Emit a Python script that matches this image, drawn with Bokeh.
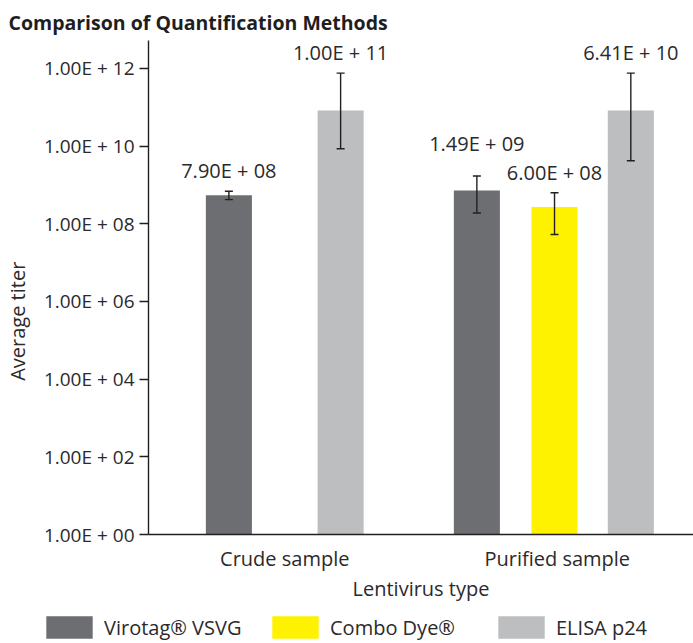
from bokeh.plotting import figure
from bokeh.models import (ColumnDataSource, Whisker, FixedTicker, Legend, LegendItem,
                          LabelSet, CustomJSTickFormatter)
from bokeh.core.properties import value
from bokeh.embed import file_html
from bokeh.resources import INLINE

# ---------------- data ----------------
categories = ["Crude sample", "Purified sample"]
methods = ["Virotag® VSVG", "Combo Dye®", "ELISA p24"]
method_colors = ["#6d6e71", "#fff200", "#bcbec0"]

bar_category = ["Crude sample", "Crude sample", "Purified sample", "Purified sample", "Purified sample"]
bar_method = ["Virotag® VSVG", "ELISA p24", "Virotag® VSVG", "Combo Dye®", "ELISA p24"]
bar_value = [5.4e8, 8.3e10, 7.2e8, 2.7e8, 8.3e10]
err_upper = [6.9e8, 7.6e11, 1.7e9, 6.3e8, 7.6e11]
err_lower = [4.2e8, 8.6e9, 1.9e8, 5.3e7, 4.2e9]
bar_labels = ["7.90E + 08", "1.00E + 11", "1.49E + 09", "6.00E + 08", "6.41E + 10"]

ytick_values = [1e0, 1e2, 1e4, 1e6, 1e8, 1e10, 1e12]
ytick_labels = ["1.00E + 00", "1.00E + 02", "1.00E + 04", "1.00E + 06",
                "1.00E + 08", "1.00E + 10", "1.00E + 12"]

title_text = "Comparison of Quantification Methods"
x_title = "Lentivirus type"
y_title = "Average titer"

# ---------------- layout / style ----------------
FONT = "Open Sans"
TXT = "#2b2a2b"
AX = "#231f20"
bar_offsets = [-0.205, 0.205, -0.295, -0.01, 0.27]   # within-category dodge
label_raise = [13, 13, 25, 13, 13]                    # px above error-bar top
bar_w = 0.169

xs = [categories.index(c) + 0.5 + o for c, o in zip(bar_category, bar_offsets)]
src = ColumnDataSource(dict(x=xs, top=bar_value, up=err_upper, lo=err_lower,
                            lab=bar_labels, raise_=label_raise))

p = figure(width=693, height=609, y_axis_type="log",
           x_range=(0, 2), y_range=(1, 10 ** 12.72),
           output_backend="svg", toolbar_location=None,
           min_border_left=148, min_border_right=0, min_border_top=40,
           min_border_bottom=75)
p.outline_line_color = None
p.grid.visible = False
p.background_fill_color = "white"

# title
p.title.text = title_text
p.title.text_font = FONT
p.title.text_font_size = "19.5px"
p.title.text_font_style = "bold"
p.title.text_color = "#1f1e1f"
p.title.align = "left"
p.title.offset = -140
p.title.standoff = 9

for m, c in zip(methods, method_colors):
    idx = [i for i, bm in enumerate(bar_method) if bm == m]
    s = ColumnDataSource(dict(x=[xs[i] for i in idx], top=[bar_value[i] for i in idx]))
    p.vbar(x="x", top="top", bottom=1, width=bar_w, source=s,
           fill_color=c, line_color=None)

w = Whisker(base="x", upper="up", lower="lo", source=src, level="annotation",
            line_color=AX, line_width=1.4)
for head in (w.upper_head, w.lower_head):
    head.size = 8
    head.line_color = AX
    head.line_width = 1.4
p.add_layout(w)

labels = LabelSet(x="x", y="up", text="lab", source=src, text_align="center",
                  text_baseline="alphabetic", y_offset="raise_",
                  text_font=value(FONT), text_font_size="20px", text_color=TXT)
p.add_layout(labels)

# y axis
ya = p.yaxis[0]
ya.ticker = FixedTicker(ticks=ytick_values, minor_ticks=[])
ya.formatter = CustomJSTickFormatter(args=dict(vals=ytick_values, labs=ytick_labels), code="""
    let best = 0, bd = 1e9;
    for (let i = 0; i < vals.length; i++) {
        const d = Math.abs(Math.log10(vals[i]) - Math.log10(tick));
        if (d < bd) { bd = d; best = i; }
    }
    return labs[best];
""")
ya.axis_label = y_title + "\u00a0" * 13
ya.axis_label_text_font = FONT
ya.axis_label_text_font_style = "normal"
ya.axis_label_text_font_size = "20px"
ya.axis_label_text_color = TXT
ya.axis_label_standoff = 10
ya.major_label_text_font = FONT
ya.major_label_text_font_size = "19px"
ya.major_label_text_color = TXT
ya.major_label_standoff = 5
ya.major_tick_out = 9
ya.major_tick_in = 0
ya.minor_tick_out = 0
ya.minor_tick_in = 0
ya.axis_line_color = AX
ya.axis_line_width = 1.4
ya.major_tick_line_color = AX
ya.major_tick_line_width = 1.4

# x axis
xa = p.xaxis[0]
xa.ticker = FixedTicker(ticks=[0.5, 1.5], minor_ticks=[])
xa.formatter = CustomJSTickFormatter(args=dict(cats=categories), code="""
    return cats[Math.round(tick - 0.5)];
""")
xa.axis_label = x_title
xa.axis_label_text_font = FONT
xa.axis_label_text_font_style = "normal"
xa.axis_label_text_font_size = "20px"
xa.axis_label_text_color = TXT
xa.axis_label_standoff = 0
xa.major_label_text_font = FONT
xa.major_label_text_font_size = "20px"
xa.major_label_text_color = TXT
xa.major_label_standoff = 10
xa.major_tick_out = 0
xa.major_tick_in = 0
xa.minor_tick_out = 0
xa.minor_tick_in = 0
xa.axis_line_color = AX
xa.axis_line_width = 1.4

# legend strip: a separate root below the chart, so it can span the full width
pl = figure(width=693, height=34, output_backend="svg", toolbar_location=None,
            min_border_left=0, min_border_right=0, min_border_top=0, min_border_bottom=0,
            x_range=(0, 1), y_range=(0, 1))
pl.axis.visible = False
pl.grid.visible = False
pl.outline_line_color = None
items = []
for m, c in zip(methods, method_colors):
    # zero-height key bar: nothing is drawn in the strip itself, only the legend swatch
    r = pl.vbar(x=[0.5], top=[0], bottom=[0], width=0, fill_color=c, line_color=None)
    items.append(LegendItem(label=m, renderers=[r]))
legend = Legend(items=items, orientation="horizontal", location=(40, 2),
                glyph_width=58, glyph_height=28, label_standoff=6, label_width=162,
                spacing=0, padding=0, margin=0, border_line_color=None,
                background_fill_alpha=0, label_text_font=FONT,
                label_text_font_size="20px", label_text_color=TXT)
pl.add_layout(legend, "center")

open("out.html", "w").write(file_html([p, pl], INLINE))
